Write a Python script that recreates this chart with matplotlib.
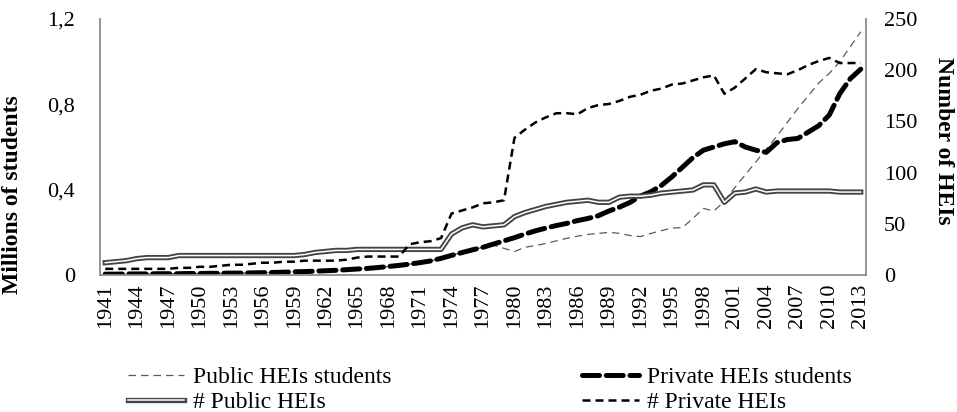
import matplotlib
matplotlib.use("Agg")
import matplotlib.pyplot as plt
import matplotlib.patheffects as pe

# values
years = list(range(1941, 2014))

# millions of students
public_students = [
    0.004, 0.004, 0.005, 0.005, 0.005, 0.006, 0.006, 0.006, 0.007, 0.007,
    0.008, 0.008, 0.009, 0.009, 0.010, 0.011, 0.012, 0.013, 0.015, 0.016,
    0.018, 0.020, 0.022, 0.025, 0.028, 0.031, 0.035, 0.040, 0.045, 0.051,
    0.058, 0.066, 0.078, 0.092, 0.105, 0.118, 0.130, 0.140, 0.125, 0.110,
    0.130, 0.138, 0.148, 0.160, 0.172, 0.182, 0.190, 0.195, 0.200, 0.195,
    0.185, 0.180, 0.195, 0.208, 0.220, 0.222, 0.265, 0.312, 0.300, 0.345,
    0.410, 0.470, 0.530, 0.590, 0.650, 0.715, 0.780, 0.840, 0.900, 0.945,
    1.000, 1.070, 1.140,
]
private_students = [
    0.004, 0.004, 0.005, 0.005, 0.005, 0.006, 0.006, 0.006, 0.007, 0.007,
    0.008, 0.008, 0.009, 0.009, 0.010, 0.011, 0.012, 0.013, 0.015, 0.016,
    0.018, 0.020, 0.022, 0.025, 0.028, 0.031, 0.035, 0.040, 0.045, 0.051,
    0.058, 0.066, 0.078, 0.092, 0.105, 0.118, 0.130, 0.145, 0.160, 0.175,
    0.192, 0.207, 0.220, 0.232, 0.242, 0.255, 0.265, 0.278, 0.300, 0.318,
    0.340, 0.370, 0.390, 0.420, 0.460, 0.505, 0.550, 0.585, 0.600, 0.615,
    0.625, 0.600, 0.585, 0.575, 0.620, 0.635, 0.640, 0.670, 0.700, 0.750,
    0.850, 0.920, 0.965,
]

# number of institutions
public_heis = [
    12, 13, 14, 16, 17, 17, 17, 19, 19, 19,
    19, 19, 19, 19, 19, 19, 19, 19, 19, 20,
    22, 23, 24, 24, 25, 25, 25, 25, 25, 25,
    25, 25, 25, 40, 46, 49, 47, 48, 49, 57,
    61, 64, 67, 69, 71, 72, 73, 71, 71, 76,
    77, 77, 78, 80, 81, 82, 83, 88, 88, 71,
    80, 81, 84, 81, 82, 82, 82, 82, 82, 82,
    81, 81, 81,
]
private_heis = [
    6, 6, 6, 6, 6, 6, 6, 7, 7, 8,
    8, 9, 10, 10, 11, 12, 12, 13, 13, 14,
    14, 14, 14, 15, 17, 18, 18, 18, 18, 30,
    32, 33, 36, 60, 63, 66, 70, 71, 73, 134,
    142, 149, 154, 158, 158, 157, 163, 166, 167, 170,
    174, 176, 180, 182, 186, 187, 190, 193, 195, 177,
    183, 192, 201, 198, 197, 196, 200, 205, 209, 212,
    207, 207, 207,
]

left_ticks = [0, 0.4, 0.8, 1.2]
left_tick_labels = ["0", "0,4", "0,8", "1,2"]
right_ticks = [0, 50, 100, 150, 200, 250]

plt.rcParams["font.family"] = "Liberation Serif"

fig = plt.figure(figsize=(9.57, 4.12), dpi=100)
ax = fig.add_axes([100 / 957, 1 - 275 / 412, 766 / 957, 256 / 412])
ax2 = ax.twinx()

x = list(range(len(years)))

l1, = ax.plot(x, public_students, color="#5a5a5a", lw=0.9, dashes=(6, 4),
              label="Public HEIs students")
l2, = ax.plot(x, private_students, color="black", lw=3.6, dashes=(3.4, 1.35),
              dash_capstyle="round", solid_capstyle="round",
              label="Private HEIs students")
l3, = ax2.plot(x, public_heis, color="white", lw=1.1, label="# Public HEIs",
               path_effects=[pe.Stroke(linewidth=3.8, foreground="#444444"), pe.Normal()])
l4, = ax2.plot(x, private_heis, color="black", lw=1.8, dashes=(3.2, 2),
               label="# Private HEIs")

ax.set_xlim(-0.5, len(years) - 0.5)
ax.set_ylim(0, 1.2)
ax2.set_ylim(0, 250)

ax.set_xticks(x[::3])
ax.set_xticklabels([str(y) for y in years[::3]], rotation=90)
ax.set_yticks(left_ticks)
ax.set_yticklabels(left_tick_labels)
ax2.set_yticks(right_ticks)

ax.tick_params(axis="x", length=0, pad=6, labelsize=16)
ax.tick_params(axis="y", length=0, pad=18, labelsize=16)
ax2.tick_params(axis="y", length=0, pad=13, labelsize=16)

spine_color = "#8c8c8c"
ax.spines["top"].set_visible(False)
ax.spines["right"].set_visible(False)
ax.spines["left"].set_color(spine_color)
ax.spines["bottom"].set_color(spine_color)
ax.spines["left"].set_linewidth(1.3)
ax.spines["bottom"].set_linewidth(1.3)
for side in ["top", "left", "bottom"]:
    ax2.spines[side].set_visible(False)
ax2.spines["right"].set_color(spine_color)
ax2.spines["right"].set_linewidth(1.3)

fig.text(13 / 957, 1 - 195 / 412, "Millions of students", rotation=90,
         ha="center", va="center", fontsize=17, fontweight="bold")
fig.text(944 / 957, 1 - 141 / 412, "Number of HEIs", rotation=270,
         ha="center", va="center", fontsize=17, fontweight="bold")

fig.legend(handles=[l1, l3, l2, l4], ncol=2, loc="upper left",
           bbox_to_anchor=(116 / 957, 1 - 355 / 412), frameon=False,
           fontsize=17, handlelength=2.4, columnspacing=8.1,
           handletextpad=0.35, labelspacing=0.15, borderpad=0)

fig.savefig("out.png", dpi=100)
